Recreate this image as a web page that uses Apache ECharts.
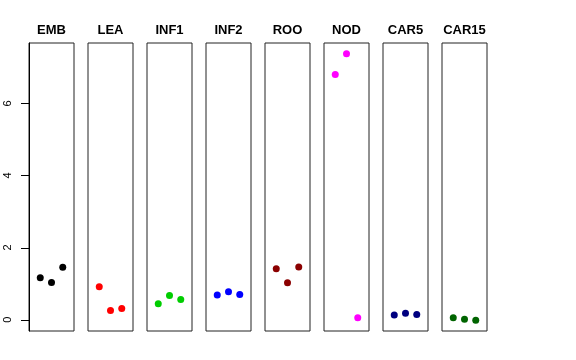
<!DOCTYPE html>
<html><head><meta charset="utf-8">
<script src="https://cdn.jsdelivr.net/npm/echarts@6/dist/echarts.min.js"></script>
<style>html,body{margin:0;padding:0;background:#fff}#c{width:576px;height:360px}</style>
</head><body><div id="c"></div>
<script>
const categories = ['EMB','LEA','INF1','INF2','ROO','NOD','CAR5','CAR15'];
const colors = ['#000000','#FF0000','#00CD00','#0000FF','#8B0000','#FF00FF','#000080','#006400'];
const EMB = [1.16, 1.03, 1.45];
const LEA = [0.91, 0.25, 0.31];
const INF1 = [0.44, 0.67, 0.56];
const INF2 = [0.68, 0.77, 0.70];
const ROO = [1.41, 1.02, 1.46];
const NOD = [6.80, 7.38, 0.05];
const CAR5 = [0.13, 0.18, 0.14];
const CAR15 = [0.05, 0.01, -0.02];
const yTicks = [0, 2, 4, 6];
const seriesValues = [EMB, LEA, INF1, INF2, ROO, NOD, CAR5, CAR15];

const yMin = -0.316, yMax = 7.676;
const grids = [], xAxes = [], yAxes = [], series = [];
categories.forEach((name, i) => {
  grids.push({left: 29 + i * 59, top: 43, width: 45, height: 288, show: true,
    borderColor: '#222', borderWidth: 1, backgroundColor: 'transparent'});
  xAxes.push({gridIndex: i, type: 'value', min: 0, max: 4, position: 'top',
    name: name, nameLocation: 'middle', nameGap: 6,
    nameTextStyle: {fontFamily: 'Liberation Sans', fontWeight: 'bold', fontSize: 13, color: '#000'},
    axisLine: {show: false}, axisTick: {show: false}, axisLabel: {show: false}, splitLine: {show: false}});
  yAxes.push({gridIndex: i, type: 'value', min: yMin, max: yMax, show: i === 0,
    axisLine: {show: true, lineStyle: {color: '#000', width: 1}},
    axisTick: {show: false},
    axisLabel: {show: true, customValues: yTicks, rotate: 90, margin: 16,
      fontFamily: 'Liberation Sans', fontSize: 11, color: '#000'},
    splitLine: {show: false}});
  series.push({type: 'scatter', xAxisIndex: i, yAxisIndex: i, symbolSize: 7,
    itemStyle: {color: colors[i], opacity: 1}, silent: true,
    data: seriesValues[i].map((v, k) => [k + 1, v])});
});
// y-axis tick marks on the first panel
series.push({type: 'custom', xAxisIndex: 0, yAxisIndex: 0, clip: false, silent: true, z: 10,
  data: yTicks.map(v => [0, v]),
  renderItem: function (params, api) {
    const p = api.coord([api.value(0), api.value(1)]);
    const y = Math.round(p[1]) + 0.5;
    return {type: 'line', shape: {x1: p[0] - 8, y1: y, x2: p[0], y2: y},
      style: {stroke: '#000', lineWidth: 1}};
  }});
const chart = echarts.init(document.getElementById('c'), null, {renderer: 'canvas'});
chart.setOption({animation: false, grid: grids, xAxis: xAxes, yAxis: yAxes, series: series});
</script></body></html>
